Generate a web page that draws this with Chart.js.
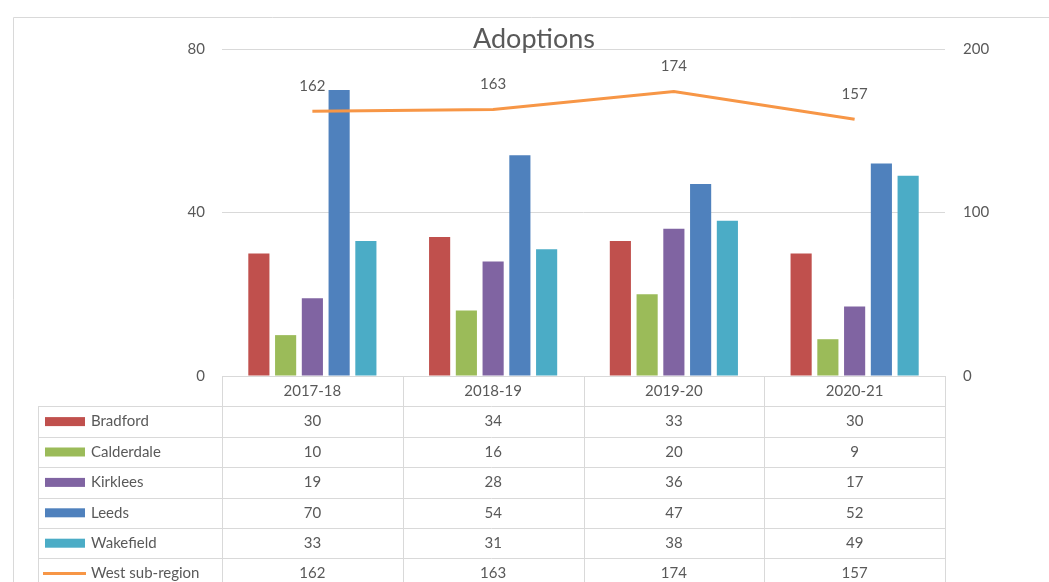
<!DOCTYPE html>
<html lang="en">
<head>
<meta charset="UTF-8">
<title>Adoptions</title>
<style>
  body { margin: 0; background: #ffffff; }
  #wrap { position: relative; width: 1049px; height: 582px; }
</style>
</head>
<body>
<div id="wrap"><canvas id="adoptChart"></canvas></div>

<script src="https://cdn.jsdelivr.net/npm/chart.js"></script>
<script>
  const years = ['2017-18', '2018-19', '2019-20', '2020-21'];
  const bradford = [30, 34, 33, 30];
  const calderdale = [10, 16, 20, 9];
  const kirklees = [19, 28, 36, 17];
  const leeds = [70, 54, 47, 52];
  const wakefield = [33, 31, 38, 49];
  const westSubRegion = [162, 163, 174, 157];

  const leftTicks = [0, 40, 80];
  const rightTicks = [0, 100, 200];

  const textColor = '#595959';
  const lineGrey = '#d9d9d9';
  const fontFamily = 'Lato, "Open Sans", sans-serif';

  const barSeries = [
    { label: 'Bradford', data: bradford, color: '#C0504D' },
    { label: 'Calderdale', data: calderdale, color: '#9BBB59' },
    { label: 'Kirklees', data: kirklees, color: '#8064A2' },
    { label: 'Leeds', data: leeds, color: '#4F81BD' },
    { label: 'Wakefield', data: wakefield, color: '#4BACC6' }
  ];

  const datasets = barSeries.map(s => ({
    type: 'bar',
    label: s.label,
    data: s.data,
    backgroundColor: s.color,
    yAxisID: 'y',
    categoryPercentage: 0.74,
    barPercentage: 0.79,
    order: 1
  }));
  datasets.push({
    type: 'line',
    label: 'West sub-region',
    data: westSubRegion,
    borderColor: '#F79646',
    borderWidth: 3,
    pointRadius: 0,
    tension: 0,
    yAxisID: 'y1',
    order: 0
  });

  // frame, title, line labels and the data table underneath
  const extrasPlugin = {
    id: 'extras',
    beforeDraw(chart) {
      const ctx = chart.ctx;
      ctx.save();
      ctx.strokeStyle = lineGrey;
      ctx.lineWidth = 1;
      ctx.beginPath();
      ctx.moveTo(13.5, chart.height);
      ctx.lineTo(13.5, 17.5);
      ctx.lineTo(chart.width, 17.5);
      ctx.stroke();
      ctx.restore();
    },
    afterDraw(chart) {
      const ctx = chart.ctx;
      const area = chart.chartArea;
      const x = chart.scales.x;
      const colW = (area.right - area.left) / years.length;
      ctx.save();

      // title
      ctx.fillStyle = textColor;
      ctx.font = '27px ' + fontFamily;
      ctx.textAlign = 'center';
      ctx.textBaseline = 'middle';
      ctx.fillText('Adoptions', 534, 39);

      // labels over the line
      ctx.font = '15px ' + fontFamily;
      const lineMeta = chart.getDatasetMeta(datasets.length - 1);
      lineMeta.data.forEach((pt, i) => {
        ctx.fillText(String(westSubRegion[i]), pt.x, pt.y - 25);
      });

      // data table
      const top = area.bottom;
      const rowH = 30.4;
      const legendLeft = 38;
      const allRows = barSeries.map(s => ({ label: s.label, data: s.data, color: s.color, kind: 'bar' }));
      allRows.push({ label: 'West sub-region', data: westSubRegion, color: '#F79646', kind: 'line' });
      const bottom = top + rowH * (allRows.length + 1);

      ctx.strokeStyle = lineGrey;
      ctx.lineWidth = 1;
      ctx.beginPath();
      // header top line
      ctx.moveTo(area.left, Math.round(top) + 0.5);
      ctx.lineTo(area.right, Math.round(top) + 0.5);
      // row lines
      for (let r = 1; r <= allRows.length; r++) {
        const y = Math.round(top + r * rowH) + 0.5;
        ctx.moveTo(legendLeft, y);
        ctx.lineTo(area.right, y);
      }
      // vertical lines
      for (let c = 0; c <= years.length; c++) {
        const vx = Math.round(area.left + c * colW) + 0.5;
        ctx.moveTo(vx, top);
        ctx.lineTo(vx, bottom);
      }
      ctx.moveTo(legendLeft + 0.5, top + rowH);
      ctx.lineTo(legendLeft + 0.5, bottom);
      ctx.stroke();

      ctx.fillStyle = textColor;
      ctx.font = '15px ' + fontFamily;
      ctx.textBaseline = 'middle';
      ctx.textAlign = 'center';
      years.forEach((yr, i) => {
        ctx.fillText(yr, x.getPixelForValue(i), top + rowH / 2);
      });

      allRows.forEach((row, r) => {
        const cy = top + rowH * (r + 1) + rowH / 2;
        if (row.kind === 'bar') {
          ctx.fillStyle = row.color;
          ctx.fillRect(45, cy - 4.5, 40, 9);
        } else {
          ctx.strokeStyle = row.color;
          ctx.lineWidth = 3;
          ctx.beginPath();
          ctx.moveTo(43, cy);
          ctx.lineTo(86, cy);
          ctx.stroke();
        }
        ctx.fillStyle = textColor;
        ctx.textAlign = 'left';
        ctx.fillText(row.label, 91, cy);
        ctx.textAlign = 'center';
        row.data.forEach((v, i) => {
          ctx.fillText(String(v), x.getPixelForValue(i), cy);
        });
      });

      ctx.restore();
    }
  };

  new Chart(document.getElementById('adoptChart'), {
    data: { labels: years, datasets: datasets },
    options: {
      responsive: true,
      maintainAspectRatio: false,
      animation: false,
      layout: { padding: { top: 49, bottom: 206, left: 0, right: 0 } },
      plugins: {
        legend: { display: false },
        tooltip: { enabled: false },
        title: { display: false }
      },
      scales: {
        x: {
          display: false,
          offset: true
        },
        y: {
          position: 'left',
          min: leftTicks[0],
          max: leftTicks[leftTicks.length - 1],
          afterBuildTicks: axis => { axis.ticks = leftTicks.map(v => ({ value: v })); },
          afterFit: axis => { axis.width = 222; },
          border: { display: false },
          grid: { color: lineGrey, drawTicks: false },
          ticks: { color: textColor, font: { family: fontFamily, size: 15 }, padding: 17 }
        },
        y1: {
          position: 'right',
          min: rightTicks[0],
          max: rightTicks[rightTicks.length - 1],
          afterBuildTicks: axis => { axis.ticks = rightTicks.map(v => ({ value: v })); },
          afterFit: axis => { axis.width = 104; },
          border: { display: false },
          grid: { display: false, drawTicks: false },
          ticks: { color: textColor, font: { family: fontFamily, size: 15 }, padding: 18 }
        }
      }
    },
    plugins: [extrasPlugin]
  });
</script>
</body>
</html>
